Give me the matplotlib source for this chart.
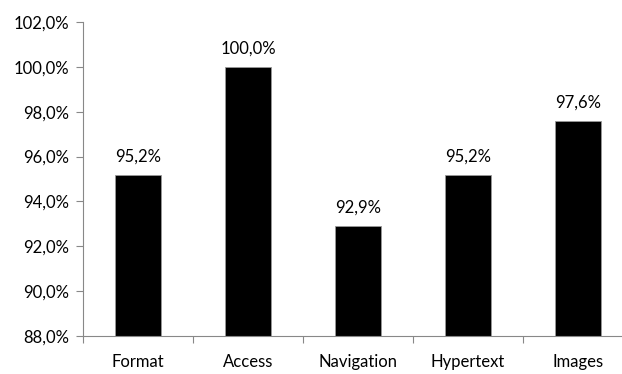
import numpy as np
import matplotlib
matplotlib.use("Agg")
import matplotlib.pyplot as plt
from matplotlib.ticker import FuncFormatter, FixedLocator

categories = ["Format", "Access", "Navigation", "Hypertext", "Images"]
values = [95.2, 100.0, 92.9, 95.2, 97.6]

plt.rcParams['font.family'] = ['Lato', 'DejaVu Sans']

fig = plt.figure(figsize=(6.22, 3.74), dpi=100)
ax = fig.add_axes([83/622, 1 - 336/374, 550/622, (336 - 22)/374])

x = np.arange(len(categories))
ax.bar(x, [v - 88 for v in values], bottom=88, width=0.41, color="black",
       edgecolor="#999999", linewidth=0.6, zorder=2)

for xi, v in zip(x, values):
    ax.text(xi, v + 0.45, f"{v:.1f}%".replace(".", ","), ha="center", va="bottom",
            fontsize=12, color="black")

ax.set_ylim(88, 102)
ax.set_xlim(-0.5, len(categories) - 0.5)
ax.set_yticks(np.arange(88, 102.1, 2))
ax.yaxis.set_major_formatter(FuncFormatter(lambda v, p: f"{v:.1f}%".replace(".", ",")))

ax.set_xticks(x)
ax.set_xticklabels(categories)
ax.xaxis.set_minor_locator(FixedLocator(np.arange(-0.5, len(categories), 1)))
ax.tick_params(axis="x", which="major", length=0, pad=13, labelsize=12)
ax.tick_params(axis="x", which="minor", length=5, color="#888888", width=0.8)
ax.tick_params(axis="y", length=5, color="#888888", width=0.8, labelsize=12, pad=5)

for s in ["top", "right"]:
    ax.spines[s].set_visible(False)
for s in ["left", "bottom"]:
    ax.spines[s].set_color("#888888")
    ax.spines[s].set_linewidth(0.8)

fig.savefig("out.png", dpi=100)
